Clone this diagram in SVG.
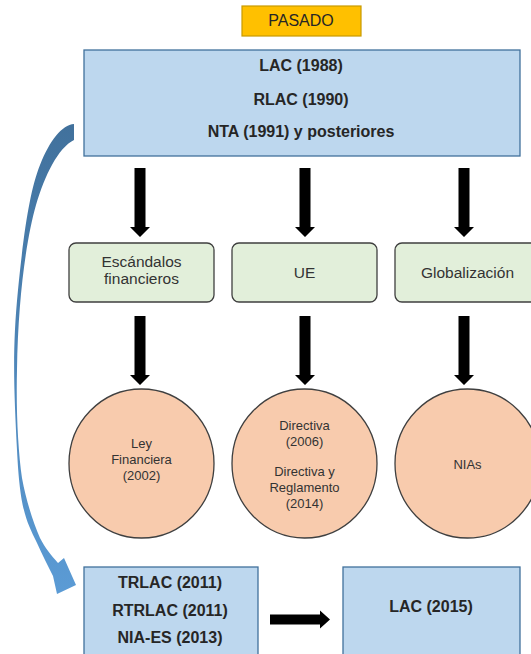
<svg xmlns="http://www.w3.org/2000/svg" width="531" height="654" viewBox="0 0 531 654">
<style>
  .blue{fill:#BDD7EE;stroke:#41719C;stroke-width:1.3}
  .green{fill:#E2EFDA;stroke:#3F3F3F;stroke-width:1.3}
  .circ{fill:#F8CBAD;stroke:#3F3F3F;stroke-width:1.3}
  .bold{font-family:"Liberation Sans",Arial,sans-serif;font-weight:bold;font-size:16px;fill:#262626;text-anchor:middle}
  .reg{font-family:"Liberation Sans",Arial,sans-serif;font-size:15.5px;fill:#333333;text-anchor:middle}
  .small{font-family:"Liberation Sans",Arial,sans-serif;font-size:13px;fill:#333333;text-anchor:middle}
  .blk{fill:#000000}
</style>
<defs>
  <path id="down" d="M-5.5,0 H5.5 V59 H10 L0,69 L-10,59 H-5.5 Z"/>
  <linearGradient id="curveGrad" gradientUnits="userSpaceOnUse" x1="0" y1="124" x2="0" y2="593">
    <stop offset="0" stop-color="#41719C"/>
    <stop offset="1" stop-color="#5B9BD5"/>
  </linearGradient>
</defs>

<g id="pasado">
  <rect x="242" y="6" width="119" height="30" fill="#FFC000" stroke="#C99A00" stroke-width="1.2"/>
  <text x="301" y="26" font-family="Liberation Sans, Arial, sans-serif" font-size="16" fill="#262626" text-anchor="middle">PASADO</text>
</g>

<g id="top-box">
  <rect class="blue" x="84" y="50" width="436" height="106"/>
  <text class="bold" x="301" y="71">LAC (1988)</text>
  <text class="bold" x="301" y="105">RLAC (1990)</text>
  <text class="bold" x="301" y="137">NTA (1991) y posteriores</text>
</g>

<g id="escandalos">
  <rect class="green" x="69" y="243" width="145" height="59" rx="7"/>
  <text class="reg" x="141.5" y="267">Escándalos</text>
  <text class="reg" x="141.5" y="284">financieros</text>
</g>
<g id="ue">
  <rect class="green" x="232" y="243" width="145" height="59" rx="7"/>
  <text class="reg" x="304.5" y="278">UE</text>
</g>
<g id="globalizacion">
  <rect class="green" x="395" y="243" width="145" height="59" rx="7"/>
  <text class="reg" x="467.5" y="278">Globalización</text>
</g>

<g id="ley">
  <ellipse class="circ" cx="141.5" cy="463.5" rx="72.5" ry="74.5"/>
  <text class="small" x="141.5" y="447.5">Ley</text>
  <text class="small" x="141.5" y="463.5">Financiera</text>
  <text class="small" x="141.5" y="479.5">(2002)</text>
</g>
<g id="directiva">
  <ellipse class="circ" cx="304.5" cy="463.5" rx="72.5" ry="74.5"/>
  <text class="small" x="304.5" y="429.5">Directiva</text>
  <text class="small" x="304.5" y="445.5">(2006)</text>
  <text class="small" x="304.5" y="475.5">Directiva y</text>
  <text class="small" x="304.5" y="491.5">Reglamento</text>
  <text class="small" x="304.5" y="507.5">(2014)</text>
</g>
<g id="nias">
  <ellipse class="circ" cx="467.5" cy="463.5" rx="72.5" ry="74.5"/>
  <text class="small" x="467.5" y="468.5">NIAs</text>
</g>

<g id="bottom-left">
  <rect class="blue" x="84" y="567" width="174" height="100"/>
  <text class="bold" x="170" y="588">TRLAC (2011)</text>
  <text class="bold" x="170" y="616">RTRLAC (2011)</text>
  <text class="bold" x="170" y="643">NIA-ES (2013)</text>
</g>
<g id="bottom-right">
  <rect class="blue" x="343" y="567" width="177" height="100"/>
  <text class="bold" x="431" y="612">LAC (2015)</text>
</g>

<g id="connectors">
  <use href="#down" class="blk" x="140" y="168"/>
  <use href="#down" class="blk" x="305" y="168"/>
  <use href="#down" class="blk" x="464" y="168"/>
  <use href="#down" class="blk" x="140" y="316"/>
  <use href="#down" class="blk" x="305" y="316"/>
  <use href="#down" class="blk" x="464" y="316"/>
  <path class="blk" d="M270,614.5 H320 V610.5 L330,619.5 L320,628.5 V624.5 H270 Z"/>
  <path fill="url(#curveGrad)" d="M74,124 C62,125 50,140 40,165 S24,230 18,290 S14,390 17,450 S26,520 37,543 C42,554 48,566 53,576 L57,594 L76,585 L64,558 L58,563 C51,555 45,548 40,538 C33,522 26,500 22,478 C18,450 16,410 17,370 C18,300 26,240 36,205 C45,175 58,148 74,140 Z"/>
</g>
</svg>
